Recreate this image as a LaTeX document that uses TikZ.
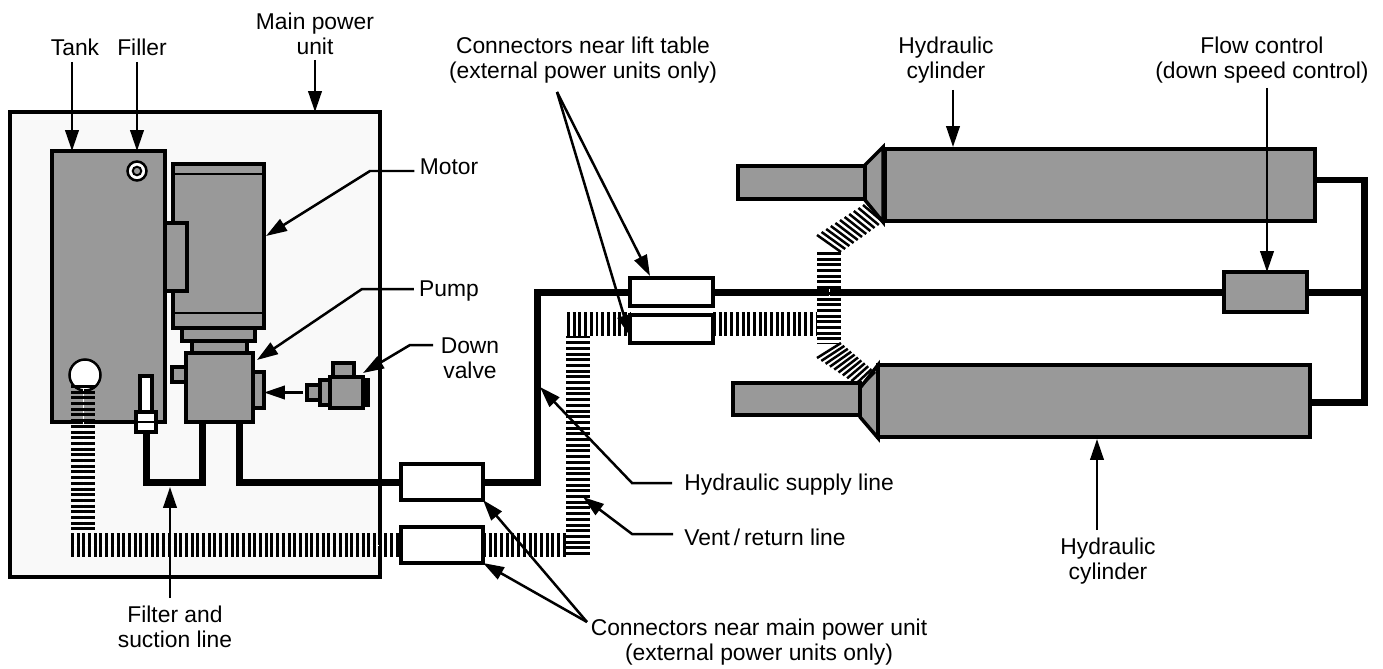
\documentclass[tikz,border=0pt]{standalone}
\usepackage{fontspec}
\setmainfont{Liberation Sans}
\usetikzlibrary{arrows.meta}
\definecolor{partgray}{gray}{0.6}
\definecolor{unitgray}{gray}{0.975}
\newcommand{\partbox}[6][part]{\node[#1, minimum width=(#5-#3)*0.02cm, minimum height=(#6-#4)*0.02cm, anchor=north west] (#2) at (#3,#4) {};}
\tikzset{
  part/.style={draw, fill=partgray, line width=0.07cm, inner sep=0, outer sep=0},
  connbox/.style={part, fill=white},
  oilline/.style={line width=0.14cm, line join=miter},
  ventline/.style={line width=0.48cm, dash pattern=on 0.06cm off 0.054cm, preaction={draw=white, solid}},
  ventslant/.style={line width=0.05cm},
  lead/.style={line width=0.05cm, -{Triangle[length=0.42cm, width=0.27cm]}},
  lbl/.style={font=\fontsize{13}{14.2}\selectfont, align=center, inner sep=0},
}
\begin{document}
\begin{tikzpicture}[x=0.02cm, y=-0.02cm]
\useasboundingbox (0,0) rectangle (1383,669);
% main power unit
\partbox[part, fill=unitgray]{unit}{10}{112}{380}{577}
\partbox{tank}{52}{151}{165}{422}
\partbox{motor}{173}{164}{264}{328}
\partbox{motorBox}{165}{223}{187}{291}
\partbox{flangeA}{182}{328}{255}{341}
\partbox{flangeB}{192}{341}{247}{353}
\partbox{pumpStubL}{172}{367}{186}{382}
\partbox{pumpStubR}{253}{372}{264}{408}
\partbox{pump}{186}{353}{253}{422}
\draw[line width=0.03cm] (motor.west |- 0,174) -- (motor.east |- 0,174);
\draw[line width=0.03cm] (motor.west |- 0,313) -- (motor.east |- 0,313);
\node[circle, draw, fill=white, line width=0.05cm, minimum size=0.38cm, inner sep=0] (filler) at (137,171) {};
\node[circle, draw, fill=partgray, line width=0.04cm, minimum size=0.17cm, inner sep=0] (fillerCap) at (filler) {};
\node[circle, draw, fill=white, line width=0.05cm, minimum size=0.62cm, inner sep=0] (strainer) at (85,375) {};
% down valve
\partbox[part, fill=black]{valveBack}{361}{380}{368}{405}
\partbox{valveCap}{333}{363}{354}{377}
\partbox{valveStep}{320}{380}{330}{405}
\partbox{valveStub}{307}{385}{320}{400}
\partbox{valve}{330}{377}{363}{408}
% suction filter
\partbox[connbox]{filterTube}{140}{376}{152}{412}
\partbox[connbox]{filterBox}{136}{412}{156}{432}
\draw[line width=0.05cm] (filterBox.west) -- (filterBox.east);
% supply side
\coordinate (suctionIn) at (filterBox.south);
\coordinate (suctionOut) at (202,422);
\coordinate (pumpOut) at (239,422);
\coordinate (riserLow) at (537,482);
\coordinate (riserTop) at (537,292);
\coordinate (tee) at (1364,292);
\partbox[connbox]{connMainA}{401}{464}{483}{500}
\partbox[connbox]{connMainB}{401}{527}{483}{563}
\partbox[connbox]{connLiftA}{630}{278}{713}{306}
\partbox[connbox]{connLiftB}{630}{315}{713}{343}
\partbox{flowCtrl}{1224}{272}{1307}{312}
\draw[oilline] (suctionIn) |- (suctionOut |- riserLow) -- (suctionOut);
\draw[oilline] (pumpOut) |- (connMainA.west);
\draw[oilline] (connMainA.east) -- (riserLow) -- (riserTop) -- (connLiftA.west);
\draw[oilline] (connLiftA.east) -- (flowCtrl.west);
\draw[oilline] (flowCtrl.east) -- (tee);
% cylinders
\partbox{rodTop}{738}{166}{865}{199}
\draw[part] (865,165) -- (883,147) -- (883,222) -- (865,200) -- cycle;
\partbox{cylTop}{885}{149}{1315}{221}
\partbox{rodLow}{733}{383}{860}{415}
\draw[part] (860,388) -- (878,365) -- (878,438) -- (860,417) -- cycle;
\partbox{cylLow}{878}{365}{1310}{437}
\coordinate (cylTopOut) at (1315,180);
\coordinate (cylLowOut) at (1310,402);
\draw[oilline] (cylTopOut) -| (tee) |- (cylLowOut);
% vent/return line
\coordinate (ventDrop) at (83,385);
\coordinate (ventLow) at (83,530);
\coordinate (ventRiseLow) at (578,555);
\coordinate (ventRiseTop) at (578,336);
\coordinate (ventMid) at (829,324);
\draw[ventline] (ventDrop) -- (ventLow);
\draw[ventline] (71,545) -- (connMainB.west |- 0,545);
\draw[ventline] (connMainB.east |- 0,545) -- (566,545);
\draw[ventline] (ventRiseLow) -- (ventRiseTop);
\draw[ventline] (567,324) -- (connLiftB.west |- 0,324);
\draw[ventline] (connLiftB.east |- 0,324) -- (ventMid -| 816,0);
\draw[ventline] (829,252) -- (829,344);
\foreach \n in {0,...,10} {
  \draw[ventslant] (817+4.6*\n,235-3*\n) -- (841+4.2*\n,252-3*\n); % upper branch
  \draw[ventslant] (817+4.3*\n,358+2.9*\n) -- (841+3.4*\n,343+2.9*\n); % lower branch
}
\partbox[connbox]{connMainB}{401}{527}{483}{563}
\partbox[connbox]{connLiftB}{630}{315}{713}{343}
% labels
\node[lbl] (lblUnit) at (315,34) {Main power\\unit};
\node[lbl] (lblTank) at (75,47) {Tank};
\node[lbl] (lblFiller) at (142,47) {Filler};
\node[lbl] (lblLift) at (583,60) {Connectors near lift table\\(external power units only)};
\node[lbl] (lblCylTop) at (946,60) {Hydraulic\\cylinder};
\node[lbl] (lblFlow) at (1262,60) {Flow control\\(down speed control)};
\node[lbl] (lblMotor) at (449,167) {Motor};
\node[lbl] (lblPump) at (449,291) {Pump};
\node[lbl] (lblValve) at (470,358) {Down\\valve};
\node[lbl, anchor=west] (lblSupply) at (684,485) {Hydraulic supply line};
\node[lbl, anchor=west] (lblVent) at (684,537) {Vent\,/\,return line};
\node[lbl] (lblCylLow) at (1108,561) {Hydraulic\\cylinder};
\node[lbl] (lblFilter) at (175,627) {Filter and\\suction line};
\node[lbl] (lblMain) at (759,642) {Connectors near main power unit\\(external power units only)};
% leader arrows
\coordinate (unitTip) at (315,112);
\coordinate (motorTip) at (266,236);
\coordinate (pumpTip) at (257,360);
\coordinate (valveTip) at (363,373);
\coordinate (riserTip) at (540,387);
\coordinate (ventTip) at (583,497);
\coordinate (mainFrom) at (587,622);
\coordinate (liftFrom) at (557,92);
\draw[lead] (72,62) -- (72,151);
\draw[lead] (filler |- 0,62) -- (filler |- tank.north);
\draw[lead] (unitTip |- 0,60) -- (unitTip);
\draw[lead] (lblMotor.west) ++(-5,4) -- (370,171) -- (motorTip);
\draw[lead] (lblPump.west) ++(-5,-2) -- (362,289) -- (pumpTip);
\draw[lead] (433,345) -- (410,345) -- (valveTip);
\draw[lead] (valveStub.west) ++(-4,0) -- (pumpStubR.east |- valveStub.west);
\draw[lead] (liftFrom) -- (650,276);
\draw[lead] (liftFrom) -- (630,336);
\draw[lead] (lblSupply.west) ++(-12,-2) -- (632,483) -- (riserTip);
\draw[lead] (lblVent.west) ++(-11,-3) -- (632,534) -- (ventTip);
\draw[lead] (mainFrom) -- (connMainA.south east);
\draw[lead] (mainFrom) -- (connMainB.south east);
\draw[lead] (1267,88) -- (flowCtrl.north -| 1267,0);
\draw[lead] (953,90) -- (953,147);
\draw[lead] (1097,530) -- (1097,439);
\draw[lead] (170,598) -- (170,487);
\end{tikzpicture}
\end{document}
